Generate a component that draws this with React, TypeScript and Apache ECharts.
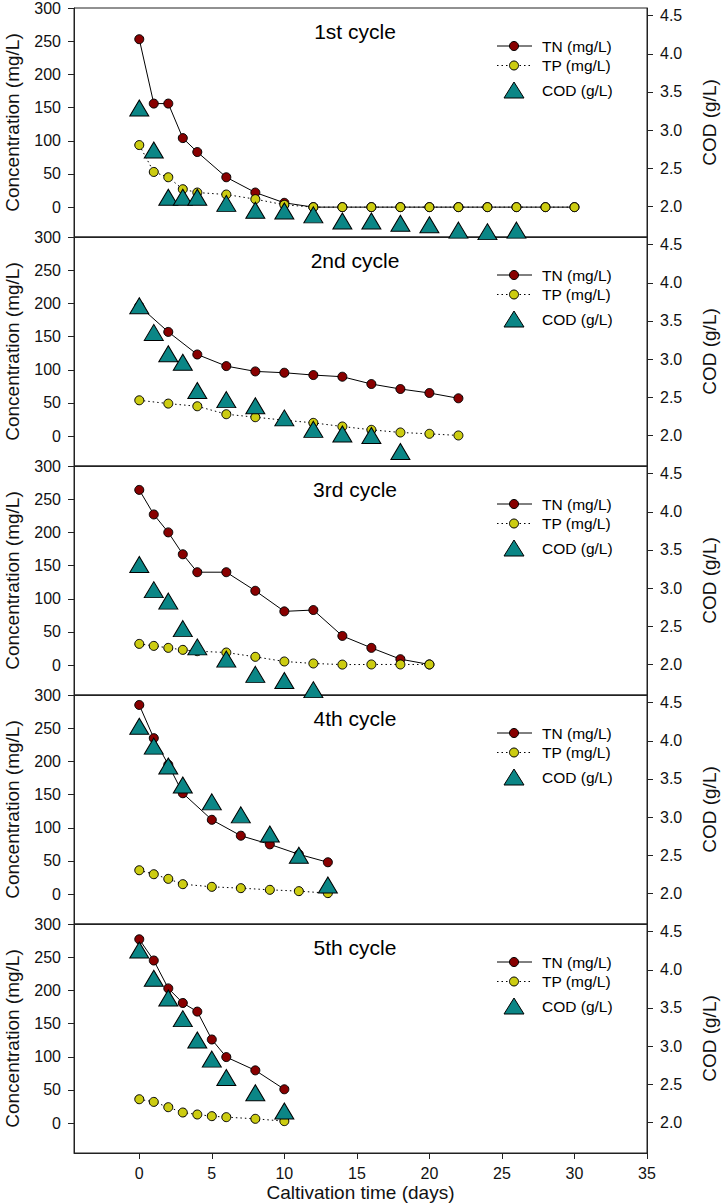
import React, { useEffect, useRef } from "react";
import * as echarts from "echarts";

// ---- data ----
const cycleTitles = ["1st cycle", "2nd cycle", "3rd cycle", "4th cycle", "5th cycle"];

const c1Days = [0, 1, 2, 3, 4, 6, 8, 10, 12, 14, 16, 18, 20, 22, 24, 26, 28, 30];
const c1TN = [253, 156, 156, 104, 83, 45, 22, 6.5, 0, 0, 0, 0, 0, 0, 0, 0, 0, 0];
const c1TP = [93.5, 53, 45, 27, 22, 19, 12, 3.5, 0, 0, 0, 0, 0, 0, 0, 0, 0, 0];
const c1CodDays = [0, 1, 2, 3, 4, 6, 8, 10, 12, 14, 16, 18, 20, 22, 24, 26];
const c1COD = [3.29, 2.74, 2.12, 2.12, 2.12, 2.04, 1.95, 1.94, 1.89, 1.81, 1.81, 1.78, 1.76, 1.69, 1.67, 1.69];

const c2Days = [0, 2, 4, 6, 8, 10, 12, 14, 16, 18, 20, 22];
const c2TN = [196, 157, 123, 105.5, 97.5, 95.5, 92, 89.5, 78.5, 71, 65, 57];
const c2TP = [54, 49, 45, 33, 28.5, 24, 20, 14.5, 9.5, 5.5, 3.5, 1];
const c2CodDays = [0, 1, 2, 3, 4, 6, 8, 10, 12, 14, 16, 18];
const c2COD = [3.7, 3.35, 3.07, 2.96, 2.59, 2.47, 2.39, 2.23, 2.08, 2.02, 2.0, 1.79];

const c3Days = [0, 1, 2, 3, 4, 6, 8, 10, 12, 14, 16, 18, 20];
const c3TN = [264, 227, 200, 167, 140, 140, 112, 81, 83, 44, 26, 9, 1];
const c3TP = [32, 29, 26, 23, 21, 19, 12.5, 5.5, 2.5, 0.8, 1, 1, 1];
const c3CodDays = [0, 1, 2, 3, 4, 6, 8, 10, 12];
const c3COD = [3.31, 2.98, 2.83, 2.47, 2.23, 2.07, 1.87, 1.79, 1.67];

const c4Days = [0, 1, 2, 3, 5, 7, 9, 11, 13];
const c4TN = [285, 235, 195, 152, 112, 88, 75, 60, 48];
const c4TP = [36, 30, 23, 15, 11, 9, 6.5, 4.5, 1.5];
const c4CodDays = [0, 1, 2, 3, 5, 7, 9, 11, 13];
const c4COD = [4.19, 3.93, 3.67, 3.42, 3.2, 3.03, 2.78, 2.5, 2.11];

const c5Days = [0, 1, 2, 3, 4, 5, 6, 8, 10];
const c5TN = [277, 245, 203, 181, 168, 126, 99.5, 79.5, 51];
const c5TP = [36, 32, 24, 16, 13, 10.5, 9, 6.5, 3];
const c5CodDays = [0, 1, 2, 3, 4, 5, 6, 8, 10];
const c5COD = [4.26, 3.89, 3.63, 3.36, 3.08, 2.83, 2.59, 2.39, 2.15];

const xTicks = [0, 5, 10, 15, 20, 25, 30, 35];
const leftTicks = [0, 50, 100, 150, 200, 250, 300];
const rightTicks = [2.0, 2.5, 3.0, 3.5, 4.0, 4.5];

const seriesNames = ["TN (mg/L)", "TP (mg/L)", "COD (g/L)"];

// ---- styling ----
const FONT = "'Liberation Sans', Arial, Helvetica, sans-serif";
const TN_COLOR = "#880000";
const TP_COLOR = "#CCCC11";
const COD_COLOR = "#0B8686";
const AXIS_COLOR = "#222";
const TEXT_COLOR = "#111";

const panels = [
  { days: c1Days, tn: c1TN, tpDays: c1Days, tp: c1TP, codDays: c1CodDays, cod: c1COD },
  { days: c2Days, tn: c2TN, tpDays: c2Days, tp: c2TP, codDays: c2CodDays, cod: c2COD },
  { days: c3Days, tn: c3TN, tpDays: c3Days, tp: c3TP, codDays: c3CodDays, cod: c3COD },
  { days: c4Days, tn: c4TN, tpDays: c4Days, tp: c4TP, codDays: c4CodDays, cod: c4COD },
  { days: c5Days, tn: c5TN, tpDays: c5Days, tp: c5TP, codDays: c5CodDays, cod: c5COD },
];

const PANEL_TOP = 8;
const PANEL_H = 229;
const LEFT = 74;
const WIDTH = 573;

function pair(xs: number[], ys: number[]) {
  return xs.map((x, i) => [x, ys[i]]);
}

function buildOption() {
  const n = panels.length;
  const grid = panels.map((_, i) => ({
    left: LEFT,
    width: WIDTH,
    top: PANEL_TOP + PANEL_H * i,
    height: PANEL_H,
    containLabel: false,
    outerBoundsMode: "none",
    show: true,
    borderColor: AXIS_COLOR,
    borderWidth: 1,
    backgroundColor: "transparent",
  }));

  const xAxis = panels.map((_, i) => {
    const last = i === n - 1;
    return {
      gridIndex: i,
      type: "value",
      min: -4.5,
      max: 35,
      splitLine: { show: false },
      axisLine: { show: true, onZero: false, lineStyle: { color: AXIS_COLOR, width: 1 } },
      axisTick: { show: last, inside: false, length: 6, customValues: xTicks, lineStyle: { color: AXIS_COLOR } },
      axisLabel: { show: last, customValues: xTicks, margin: 12, fontSize: 16, color: TEXT_COLOR, fontFamily: FONT },
      name: last ? "Caltivation time (days)" : "",
      nameLocation: "middle",
      nameGap: 30,
      nameTextStyle: { fontSize: 19, color: TEXT_COLOR, fontFamily: FONT },
    };
  });

  const leftAxes = panels.map((_, i) => ({
    gridIndex: i,
    type: "value",
    position: "left",
    min: -45,
    max: 300,
    splitLine: { show: false },
    axisLine: { show: true, onZero: false, lineStyle: { color: AXIS_COLOR, width: 1 } },
    axisTick: { show: true, inside: false, length: 6, customValues: leftTicks, lineStyle: { color: AXIS_COLOR } },
    axisLabel: { customValues: leftTicks, margin: 13, fontSize: 16, color: TEXT_COLOR, fontFamily: FONT },
    name: "Concentration (mg/L)",
    nameLocation: "middle",
    nameRotate: 90,
    nameGap: 52,
    nameTextStyle: { fontSize: 19, color: TEXT_COLOR, fontFamily: FONT },
  }));

  const rightAxes = panels.map((_, i) => ({
    gridIndex: i,
    type: "value",
    position: "right",
    min: 1.6,
    max: 4.6,
    splitLine: { show: false },
    axisLine: { show: true, onZero: false, lineStyle: { color: AXIS_COLOR, width: 1 } },
    axisTick: { show: true, inside: false, length: 6, customValues: rightTicks, lineStyle: { color: AXIS_COLOR } },
    axisLabel: {
      customValues: rightTicks,
      margin: 13,
      fontSize: 16,
      color: TEXT_COLOR,
      fontFamily: FONT,
      formatter: (v: number) => v.toFixed(1),
    },
    name: "COD (g/L)",
    nameLocation: "middle",
    nameRotate: 90,
    nameGap: 53,
    nameTextStyle: { fontSize: 19, color: TEXT_COLOR, fontFamily: FONT },
  }));

  const series: any[] = [];
  panels.forEach((p, i) => {
    series.push({
      name: seriesNames[0],
      type: "line",
      xAxisIndex: i,
      yAxisIndex: i,
      data: pair(p.days, p.tn),
      symbol: "circle",
      symbolSize: 9,
      lineStyle: { color: "#000", width: 1 },
      itemStyle: { color: TN_COLOR, borderColor: "#000", borderWidth: 1 },
      z: 2,
    });
    series.push({
      name: seriesNames[1],
      type: "line",
      xAxisIndex: i,
      yAxisIndex: i,
      data: pair(p.tpDays, p.tp),
      symbol: "circle",
      symbolSize: 9,
      lineStyle: { color: "#000", width: 1, type: [1.5, 3] },
      itemStyle: { color: TP_COLOR, borderColor: "#000", borderWidth: 1 },
      z: 3,
    });
    series.push({
      name: seriesNames[2],
      type: "scatter",
      xAxisIndex: i,
      yAxisIndex: n + i,
      data: pair(p.codDays, p.cod),
      symbol: "triangle",
      symbolSize: [19, 16],
      itemStyle: { color: COD_COLOR, borderColor: "#000", borderWidth: 1, opacity: 1 },
      z: 4,
    });
  });

  const graphic: any[] = [];
  panels.forEach((_, i) => {
    const top = PANEL_TOP + PANEL_H * i;
    graphic.push({
      type: "text",
      x: 355,
      y: top + 23,
      z: 10,
      style: {
        text: cycleTitles[i],
        fontSize: 21,
        fontFamily: FONT,
        fill: "#000",
        align: "center",
        verticalAlign: "middle",
      },
    });
    const rows = [top + 38, top + 57.5, top + 82];
    graphic.push({ type: "line", z: 10, shape: { x1: 497, y1: rows[0], x2: 532, y2: rows[0] }, style: { stroke: "#000", lineWidth: 1 } });
    graphic.push({ type: "circle", z: 11, shape: { cx: 514, cy: rows[0], r: 4.5 }, style: { fill: TN_COLOR, stroke: "#000", lineWidth: 1 } });
    graphic.push({ type: "line", z: 10, shape: { x1: 497, y1: rows[1], x2: 532, y2: rows[1] }, style: { stroke: "#000", lineWidth: 1, lineDash: [1.5, 3] } });
    graphic.push({ type: "circle", z: 11, shape: { cx: 514, cy: rows[1], r: 4.5 }, style: { fill: TP_COLOR, stroke: "#000", lineWidth: 1 } });
    graphic.push({
      type: "polygon",
      z: 11,
      shape: { points: [[504, rows[2] + 8], [524, rows[2] + 8], [514, rows[2] - 8]] },
      style: { fill: COD_COLOR, stroke: "#000", lineWidth: 1 },
    });
    seriesNames.forEach((nm, k) => {
      graphic.push({
        type: "text",
        x: 542,
        y: rows[k],
        z: 10,
        style: { text: nm, fontSize: 15.5, fontFamily: FONT, fill: "#000", verticalAlign: "middle", align: "left" },
      });
    });
  });

  return {
    animation: false,
    backgroundColor: "#fff",
    textStyle: { fontFamily: FONT },
    grid,
    xAxis,
    yAxis: [...leftAxes, ...rightAxes],
    series,
    graphic,
  };
}

export default function App() {
  const ref = useRef<HTMLDivElement | null>(null);
  useEffect(() => {
    document.body.style.margin = "0";
    if (!ref.current) return;
    const chart = echarts.init(ref.current, null, { renderer: "svg" });
    chart.setOption(buildOption() as any);
    return () => {
      chart.dispose();
    };
  }, []);
  return <div ref={ref} style={{ width: 722, height: 1204 }} />;
}
